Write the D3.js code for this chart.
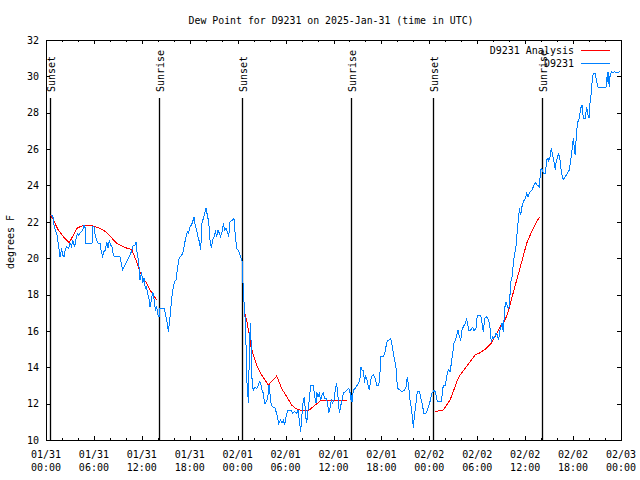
<!DOCTYPE html>
<html><head><meta charset="utf-8">
<script src="https://cdn.jsdelivr.net/npm/d3@7"></script>
<style>
body{margin:0;background:#fff;}
svg{display:block;}
text{font-family:"DejaVu Sans Mono","Liberation Mono",monospace;font-size:10px;fill:#000;}
</style></head><body>
<svg id="c" width="640" height="480"></svg>
<script>
// ---- data (hours since 2025-01-31 00:00 UTC, dew point in °F) ----
const titleText = "Dew Point for D9231 on 2025-Jan-31 (time in UTC)";
const yLabelText = "degrees F";
const seriesNames = ["D9231 Analysis", "D9231"];
const yTicks = [10,12,14,16,18,20,22,24,26,28,30,32];
const sunEvents = [[0.54,"Sunset"],[14.19,"Sunrise"],[24.58,"Sunset"],[38.23,"Sunrise"],[48.5,"Sunset"],[62.15,"Sunrise"]];

const observed = [[0.58,22.37],[0.84,22.37],[1.00,21.82],[1.17,21.55],[1.34,21.37],[1.54,20.82],[1.75,20.08],[1.96,20.54],[2.09,20.17],[2.25,20.08],[2.42,20.49],[2.59,20.63],[2.84,20.54],[3.01,20.82],[3.21,20.63],[3.34,21.0],[3.59,20.63],[3.76,21.04],[3.92,21.37],[4.09,21.27],[4.26,21.37],[4.59,21.55],[4.76,21.82],[4.93,21.64],[5.01,20.82],[5.76,20.82],[5.84,21.73],[6.01,21.73],[6.18,21.18],[6.34,21.0],[6.55,20.82],[6.76,20.82],[6.93,20.36],[7.10,20.08],[7.26,20.36],[7.43,20.45],[7.60,20.91],[7.76,20.54],[7.93,21.0],[8.10,20.72],[8.26,20.63],[8.43,20.17],[8.60,20.08],[9.27,20.08],[9.43,19.72],[9.60,19.35],[9.89,19.62],[10.18,19.90],[10.52,20.17],[10.77,20.45],[10.94,20.72],[11.14,20.72],[11.27,20.91],[11.35,20.45],[11.52,19.99],[11.69,19.35],[11.77,18.80],[11.98,19.26],[12.10,18.62],[12.27,18.89],[12.44,18.34],[12.61,18.43],[12.69,18.07],[12.86,17.88],[13.02,17.33],[13.19,17.70],[13.36,18.16],[13.52,17.79],[13.69,17.15],[13.86,17.33],[14.02,16.87],[14.15,16.78],[14.27,17.24],[14.78,17.24],[14.94,16.97],[15.11,16.60],[15.24,16.23],[15.32,15.92],[15.53,16.78],[15.74,17.79],[15.94,18.43],[16.11,18.71],[16.28,18.80],[16.44,19.35],[16.61,19.90],[16.78,20.08],[16.99,20.17],[17.20,20.36],[17.36,20.82],[17.53,21.18],[17.70,21.46],[17.86,21.37],[18.03,21.73],[18.20,21.82],[18.37,22.01],[18.53,22.28],[18.70,21.73],[18.87,21.55],[19.03,21.18],[19.20,20.91],[19.37,20.45],[19.53,21.91],[19.70,22.19],[19.87,22.47],[20.04,22.74],[20.20,22.37],[20.37,22.01],[20.54,21.0],[20.70,20.54],[20.87,21.0],[21.04,21.18],[21.20,21.46],[21.37,21.18],[21.54,21.55],[21.70,21.37],[21.87,21.18],[22.04,21.46],[22.21,21.91],[22.37,21.55],[22.54,21.64],[22.71,21.46],[22.87,21.18],[23.04,22.01],[23.37,22.10],[23.54,22.19],[23.71,21.18],[23.88,20.54],[24.17,20.36],[24.42,19.99],[24.58,19.81],[24.60,19.35],[24.67,18.62],[24.75,17.88],[24.92,16.78],[25.00,15.87],[25.08,14.77],[25.17,13.12],[25.25,12.75],[25.34,12.05],[25.42,13.85],[25.50,15.50],[25.59,16.42],[25.67,15.50],[25.75,13.85],[25.84,12.93],[26.0,12.75],[26.17,12.93],[26.38,12.84],[26.59,13.02],[26.76,13.21],[26.92,13.02],[27.09,12.66],[27.25,12.57],[27.34,12.02],[27.5,12.02],[27.67,12.20],[27.84,12.57],[27.92,13.02],[28.0,12.75],[28.17,12.02],[28.34,11.84],[28.68,11.75],[28.93,11.37],[29.14,10.92],[29.39,11.10],[29.55,10.92],[29.72,11.10],[29.89,10.82],[30.05,11.28],[30.30,11.65],[30.64,11.65],[30.89,11.47],[31.1,11.56],[31.39,11.47],[31.56,11.65],[31.72,11.10],[31.89,10.46],[32.06,11.47],[32.22,12.20],[32.39,12.38],[32.47,11.47],[32.64,10.92],[32.81,11.65],[32.97,12.20],[33.14,13.02],[33.47,13.02],[33.64,12.38],[33.81,12.02],[33.89,12.65],[34.06,12.38],[34.22,12.57],[34.39,12.20],[34.56,12.47],[34.72,12.57],[34.89,12.29],[35.14,12.29],[35.31,11.84],[35.39,11.47],[35.56,11.75],[35.72,12.20],[35.89,12.02],[36.06,12.20],[36.23,12.75],[36.39,13.15],[36.56,12.38],[36.73,11.47],[36.89,11.84],[37.06,12.20],[37.23,12.57],[37.48,12.65],[37.73,12.75],[37.89,12.84],[38.06,12.65],[38.15,12.20],[38.23,12.47],[38.32,12.11],[38.48,12.75],[38.73,12.84],[38.98,13.02],[39.15,13.12],[39.32,13.39],[39.44,14.03],[39.57,13.85],[39.73,13.85],[39.9,13.12],[39.98,13.57],[40.15,13.39],[40.32,13.02],[40.49,12.75],[40.57,13.02],[40.74,13.48],[40.99,13.57],[41.24,13.39],[41.41,13.02],[41.66,12.97],[41.82,13.67],[41.91,14.58],[42.24,14.58],[42.41,14.77],[42.57,15.13],[42.74,15.46],[42.99,15.50],[43.16,15.59],[43.33,15.22],[43.49,14.77],[43.74,14.22],[43.91,13.67],[43.99,12.84],[44.33,12.75],[44.58,12.66],[44.83,12.71],[45.08,12.93],[45.24,13.48],[45.41,12.93],[45.58,12.20],[45.74,11.75],[45.91,11.2],[45.99,10.64],[46.16,11.47],[46.33,12.02],[46.49,12.66],[46.74,12.66],[46.91,12.38],[47.08,12.02],[47.33,11.47],[47.58,11.47],[47.83,11.75],[48.08,12.11],[48.33,12.57],[48.58,12.71],[48.75,12.66],[49.0,12.10],[49.5,12.10],[49.75,13.02],[50.0,13.02],[50.17,13.48],[50.38,13.85],[50.59,13.76],[50.76,14.22],[50.92,14.77],[51.09,15.32],[51.26,15.50],[51.43,15.77],[51.59,16.05],[51.76,15.68],[51.93,15.50],[52.09,16.05],[52.26,16.23],[52.51,16.42],[52.68,16.64],[52.93,16.05],[53.18,16.05],[53.43,16.2],[53.59,16.03],[53.84,16.14],[54.01,16.87],[54.43,16.87],[54.6,16.42],[54.76,15.96],[54.93,16.69],[55.18,16.78],[55.43,16.60],[55.6,16.14],[55.76,15.41],[55.93,15.68],[56.1,15.59],[56.35,15.87],[56.52,15.77],[56.68,15.50],[56.85,16.05],[57.1,16.42],[57.27,15.96],[57.43,17.24],[57.6,17.61],[57.85,17.24],[58.02,17.33],[58.18,18.62],[58.35,18.98],[58.52,19.72],[58.69,20.26],[58.85,20.63],[59.02,21.55],[59.19,22.28],[59.27,22.74],[59.44,22.37],[59.6,22.83],[59.77,23.11],[60.02,23.29],[60.19,23.57],[60.36,23.38],[60.61,23.66],[60.86,23.75],[61.02,23.93],[61.27,24.15],[61.52,24.02],[61.77,23.93],[61.94,24.85],[62.1,24.94],[62.27,24.66],[62.52,24.66],[62.7,25.40],[62.86,25.49],[62.94,25.3],[63.11,25.58],[63.27,26.04],[63.44,25.67],[63.61,25.30],[63.77,24.85],[63.86,25.21],[64.02,25.49],[64.19,25.77],[64.36,25.40],[64.53,24.76],[64.7,24.39],[64.86,24.34],[65.03,24.48],[65.28,24.66],[65.53,24.85],[65.70,25.40],[65.87,25.95],[66.03,26.59],[66.2,25.86],[66.28,25.67],[66.37,26.50],[66.45,27.05],[66.61,27.51],[66.78,27.69],[66.95,28.24],[67.12,28.43],[67.28,27.69],[67.53,27.69],[67.7,28.33],[67.87,27.88],[68.03,27.69],[68.12,28.52],[68.28,29.07],[68.37,29.62],[68.53,30.17],[68.78,30.17],[68.95,29.71],[69.12,29.40],[70.12,29.40],[70.21,29.98],[70.29,29.71],[70.37,30.26],[70.54,29.40],[70.62,29.98],[70.79,30.26],[71.04,30.22],[71.2,30.26],[71.3,30.2],[71.91,30.26]];

const analysis1 = [[0.6,22.37],[0.92,22.1],[1.54,21.55],[2.17,21.18],[2.92,20.85],[3.42,21.27],[3.84,21.64],[4.47,21.77],[5.09,21.82],[5.93,21.77],[6.76,21.64],[7.6,21.42],[8.1,21.18],[8.77,20.85],[9.47,20.67],[10.18,20.54],[10.73,20.48],[11.35,19.81],[11.77,19.26],[12.19,18.89],[12.6,18.62],[13.02,18.25],[13.44,17.97],[13.86,17.70]];
const analysis2 = [[24.84,17.06],[25.13,16.60],[25.42,15.87],[25.67,15.13],[25.96,14.67],[26.38,14.12],[27.0,13.57],[27.84,13.02],[28.89,13.52],[29.5,12.84],[30.14,12.38],[30.76,11.92],[31.26,11.74],[32.0,11.61],[32.97,11.65],[33.68,11.92],[34.52,12.20],[35.35,12.20],[36.6,12.20],[37.73,12.20]];
const analysis3 = [[48.71,11.56],[49.75,11.65],[50.17,11.92],[50.59,12.2],[51.0,12.66],[51.43,13.21],[51.84,13.57],[52.47,13.94],[53.09,14.3],[53.72,14.67],[54.35,14.80],[54.98,14.99],[55.68,15.28],[56.22,15.68],[56.85,16.23],[57.48,16.60],[57.89,17.06],[58.31,17.79],[58.94,18.80],[59.57,19.81],[60.19,20.82],[60.82,21.46],[61.44,22.01],[61.77,22.25]];

// ---- layout ----
const base = Date.UTC(2025,0,31,0,0);
const T = h => new Date(base + h*3600000);
const L = 46, R = 621, Tp = 40, B = 440;
const svg = d3.select("#c");
const x = d3.scaleUtc().domain([T(0), T(72)]).range([L, R]);
const y = d3.scaleLinear().domain([10, 32]).range([B, Tp]);

const blue = "#0080ff", red = "#ff0000";

// axes
const majorT = x.ticks(d3.utcHour.every(6));
const minorT = x.ticks(d3.utcHour.every(2)).filter(d => d.getUTCHours() % 6 !== 0);

function xAxis(g, gen, ticks, size) {
  g.call(gen.tickValues(ticks).tickSize(size).tickFormat(""));
  g.select(".domain").remove();
  g.selectAll("line").attr("stroke", "#000").attr("shape-rendering", "crispEdges");
}
xAxis(svg.append("g").attr("transform", `translate(0,${B})`), d3.axisBottom(x), majorT, -4);
xAxis(svg.append("g").attr("transform", `translate(0,${B})`), d3.axisBottom(x), minorT, -2);
xAxis(svg.append("g").attr("transform", `translate(0,${Tp})`), d3.axisTop(x), majorT, -4);
xAxis(svg.append("g").attr("transform", `translate(0,${Tp})`), d3.axisTop(x), minorT, -2);

// two-line bottom labels
const fmtD = d3.utcFormat("%m/%d"), fmtH = d3.utcFormat("%H:%M");
const lab = svg.append("g");
majorT.forEach(d => {
  const t = lab.append("text").attr("text-anchor", "middle");
  t.append("tspan").attr("x", x(d)).attr("y", 458).text(fmtD(d));
  t.append("tspan").attr("x", x(d)).attr("y", 471).text(fmtH(d));
});

const gl = svg.append("g").attr("transform", `translate(${L},0)`)
  .call(d3.axisLeft(y).tickValues(yTicks).tickSize(-4).tickPadding(7).tickFormat(d3.format("d")));
gl.select(".domain").remove();
gl.selectAll("line").attr("stroke", "#000").attr("shape-rendering", "crispEdges");
const gr = svg.append("g").attr("transform", `translate(${R},0)`)
  .call(d3.axisRight(y).tickValues(yTicks).tickSize(-4).tickFormat(""));
gr.select(".domain").remove();
gr.selectAll("line").attr("stroke", "#000").attr("shape-rendering", "crispEdges");
svg.selectAll("g").attr("font-family", null).attr("font-size", null);

// frame
svg.append("rect").attr("x", L + 0.5).attr("y", Tp + 0.5).attr("width", R - L).attr("height", B - Tp)
  .attr("fill", "none").attr("stroke", "#000").attr("shape-rendering", "crispEdges");

// sun lines
const sun = svg.append("g");
sunEvents.forEach(([h, name]) => {
  const xx = Math.round(x(T(h))) + 0.5;
  sun.append("line").attr("x1", xx).attr("x2", xx).attr("y1", 98).attr("y2", B)
    .attr("stroke", "#000").attr("stroke-width", 1.3);
  sun.append("text").attr("transform", `translate(${xx + 4},92) rotate(-90)`).text(name);
});

// lines
const line = d3.line().x(d => x(T(d[0]))).y(d => y(d[1]));
[analysis1, analysis2, analysis3].forEach(seg => {
  svg.append("path").attr("d", line(seg)).attr("fill", "none").attr("stroke", red)
    .attr("stroke-width", 1).attr("shape-rendering", "crispEdges");
});
svg.append("path").attr("d", line(observed)).attr("fill", "none").attr("stroke", blue)
  .attr("stroke-width", 1).attr("shape-rendering", "crispEdges");

// legend
const lg = svg.append("g");
[[red, 50, 54], [blue, 63, 67]].forEach(([c, ly, ty], i) => {
  lg.append("text").attr("x", 574).attr("y", ty).attr("text-anchor", "end").text(seriesNames[i]);
  lg.append("line").attr("x1", 581).attr("x2", 610).attr("y1", ly + 0.5).attr("y2", ly + 0.5)
    .attr("stroke", c).attr("stroke-width", 1).attr("shape-rendering", "crispEdges");
});

// title & y label
svg.append("text").attr("x", 331).attr("y", 24).attr("text-anchor", "middle")
  .attr("textLength", 285).attr("lengthAdjust", "spacingAndGlyphs").text(titleText);
svg.append("text").attr("transform", "translate(14,242) rotate(-90)").attr("text-anchor", "middle").text(yLabelText);
</script></body></html>
